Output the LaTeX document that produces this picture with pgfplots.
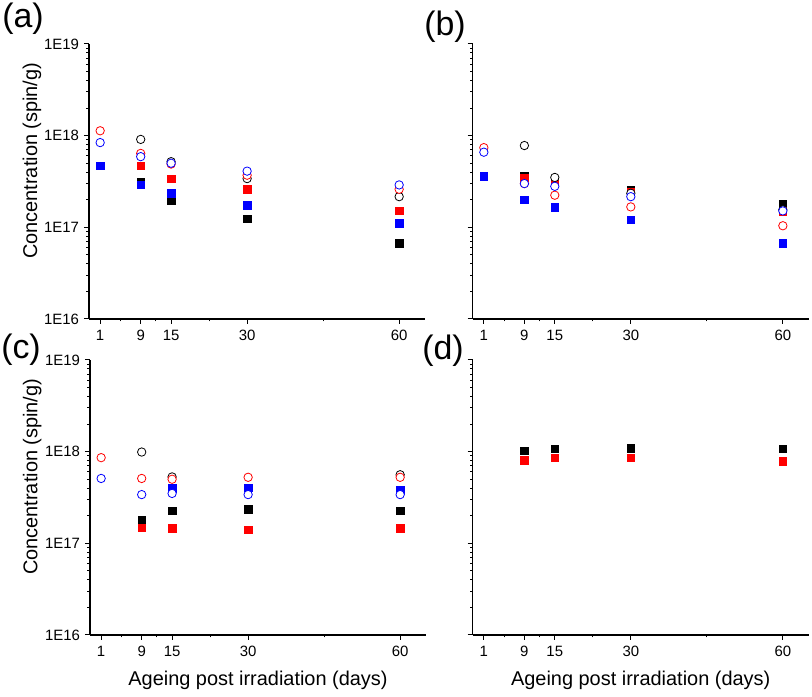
\documentclass[border=0pt]{standalone}
\usepackage{fontspec}
\setmainfont{Liberation Sans}
\usepackage{pgfplots}
\pgfplotsset{compat=1.18}
\pgfplotsset{/pgf/number format/assume math mode=true}
\pgfplotsset{
 mypanel/.style={
  scale only axis, width=336bp, height=275bp,
  anchor=south west,
  ymin=1e16, ymax=1e19,
  xmin=-1.2, xmax=65.1,
  axis x line=bottom, axis y line=left,
  axis line style={-, line width=1.2bp},
  xtick={1,9,15,30,60}, minor xtick={5,12,22.5,45},
  ytick={1e16,1e17,1e18,1e19},
  yticklabels={1E16,1E17,1E18,1E19},
  minor ytick={2e16,3e16,4e16,5e16,6e16,7e16,8e16,9e16,2e17,3e17,4e17,5e17,6e17,7e17,8e17,9e17,2e18,3e18,4e18,5e18,6e18,7e18,8e18,9e18},
  tick align=outside,
  major tick length=5bp, minor tick length=2.5bp,
  tick style={black, line width=1bp},
  tick label style={font=\fontsize{15}{18}\selectfont},
  xticklabel style={yshift=-3bp},
  yticklabel style={xshift=-1.5bp},
  label style={font=\fontsize{20}{24}\selectfont}
 },
 mynoylab/.style={yticklabels={}},
 serBF/.style={only marks, mark=square*, mark size=3.7bp, black},
 serRF/.style={only marks, mark=square*, mark size=3.7bp, red},
 serUF/.style={only marks, mark=square*, mark size=3.7bp, blue},
 serBO/.style={only marks, mark=*, mark size=4.2bp, black, mark options={draw=black, fill=white, line width=0.8bp}},
 serRO/.style={only marks, mark=*, mark size=4.2bp, red, mark options={draw=red, fill=white, line width=0.8bp}},
 serUO/.style={only marks, mark=*, mark size=4.2bp, blue, mark options={draw=blue, fill=white, line width=0.8bp}},
}
\begin{document}
\begin{tikzpicture}
\useasboundingbox (0,0) rectangle (812bp,697bp);
% (a)
\begin{semilogyaxis}[mypanel, at={(89bp,378bp)},
  ylabel={Concentration (spin/g)},
  ylabel style={at={(axis description cs:-0.170,0.575)}, anchor=center}]
\addplot[serBF] coordinates {(9,3.15e17) (15,1.95e17) (30,1.24e17) (60,6.7e16)};
\addplot[serRF] coordinates {(9,4.7e17) (15,3.4e17) (30,2.6e17) (60,1.52e17)};
\addplot[serUF] coordinates {(1,4.7e17) (9,2.9e17) (15,2.35e17) (30,1.74e17) (60,1.11e17)};
\addplot[serBO] coordinates {(9,9.1e17) (15,5.2e17) (30,3.4e17) (60,2.16e17)};
\addplot[serRO] coordinates {(1,1.13e18) (9,6.4e17) (15,4.9e17) (30,3.7e17) (60,2.6e17)};
\addplot[serUO] coordinates {(1,8.4e17) (9,5.9e17) (15,5.0e17) (30,4.1e17) (60,2.9e17)};
\end{semilogyaxis}
% (b)
\begin{semilogyaxis}[mypanel, mynoylab, at={(472.7bp,378bp)}]
\addplot[serBF] coordinates {(9,3.6e17) (15,3.15e17) (30,2.56e17) (60,1.8e17)};
\addplot[serRF] coordinates {(9,3.5e17) (15,3.0e17) (30,2.43e17) (60,1.5e17)};
\addplot[serUF] coordinates {(1,3.6e17) (9,2.0e17) (15,1.66e17) (30,1.21e17) (60,6.7e16)};
\addplot[serBO] coordinates {(9,7.8e17) (15,3.5e17) (30,2.35e17) (60,1.55e17)};
\addplot[serRO] coordinates {(1,7.4e17) (9,3.0e17) (15,2.24e17) (30,1.67e17) (60,1.04e17)};
\addplot[serUO] coordinates {(1,6.6e17) (9,3.0e17) (15,2.8e17) (30,2.16e17) (60,1.51e17)};
\end{semilogyaxis}
% (c)
\begin{semilogyaxis}[mypanel, at={(90bp,62bp)},
  ylabel={Concentration (spin/g)},
  ylabel style={at={(axis description cs:-0.172,0.575)}, anchor=center},
  xlabel={Ageing post irradiation (days)},
  xlabel style={at={(axis description cs:0.5,-0.164)}, anchor=center}]
\addplot[serBF] coordinates {(9,1.81e17) (15,2.27e17) (30,2.36e17) (60,2.27e17)};
\addplot[serRF] coordinates {(9,1.47e17) (15,1.46e17) (30,1.41e17) (60,1.46e17)};
\addplot[serUF] coordinates {(15,4.0e17) (30,4.05e17) (60,3.8e17)};
\addplot[serBO] coordinates {(9,9.9e17) (15,5.3e17) (60,5.6e17)};
\addplot[serRO] coordinates {(1,8.6e17) (9,5.1e17) (15,5.0e17) (30,5.25e17) (60,5.25e17)};
\addplot[serUO] coordinates {(1,5.1e17) (9,3.4e17) (15,3.5e17) (30,3.4e17) (60,3.4e17)};
\end{semilogyaxis}
% (d)
\begin{semilogyaxis}[mypanel, mynoylab, at={(472.7bp,62bp)},
  xlabel={Ageing post irradiation (days)},
  xlabel style={at={(axis description cs:0.5,-0.164)}, anchor=center}]
\addplot[serBF] coordinates {(9,1.02e18) (15,1.07e18) (30,1.09e18) (60,1.08e18)};
\addplot[serRF] coordinates {(9,8.06e17) (15,8.6e17) (30,8.6e17) (60,7.9e17)};
\end{semilogyaxis}
\node[font=\fontsize{34}{40}\selectfont, inner sep=0pt] at (23bp,678bp) {(a)};
\node[font=\fontsize{34}{40}\selectfont, inner sep=0pt] at (445bp,670bp) {(b)};
\node[font=\fontsize{34}{40}\selectfont, inner sep=0pt] at (21bp,347bp) {(c)};
\node[font=\fontsize{34}{40}\selectfont, inner sep=0pt] at (443bp,346bp) {(d)};
\end{tikzpicture}
\end{document}
